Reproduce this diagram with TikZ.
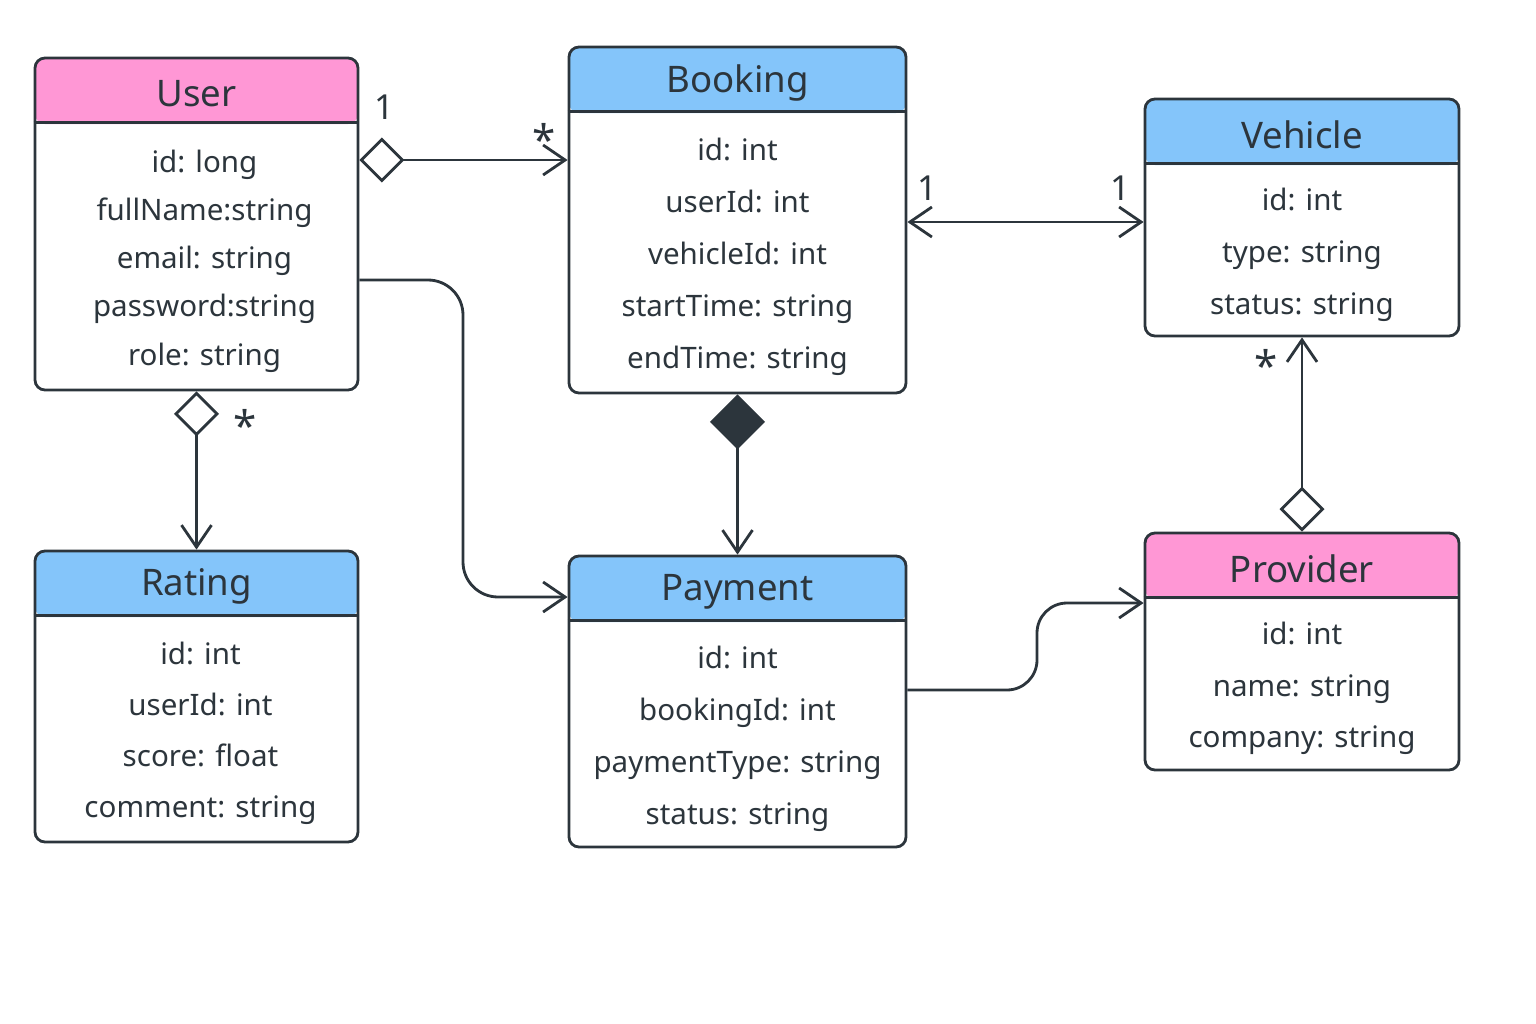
\documentclass[tikz,border=0pt]{standalone}
\usepackage{fontspec}
\setmainfont{Noto Sans}
\usetikzlibrary{arrows.meta,fit,calc}
\definecolor{ink}{HTML}{2C353C}
\definecolor{headpink}{HTML}{FF97D5}
\definecolor{headblue}{HTML}{84C5FA}
\tikzset{
  classbox/.style={draw=ink, line width=0.8pt, rounded corners=0.1cm, inner sep=0pt,
    path picture={\fill[#1] (path picture bounding box.north west) rectangle ([yshift=-0.66cm]path picture bounding box.north east);}},
  headline/.style={draw=ink, line width=0.8pt},
  classname/.style={text=ink, yshift=-0.04cm, font=\fontsize{10.4}{12}\selectfont},
  attrs/.style={text=ink, align=center, yshift=-0.04cm, font=\fontsize{8.4}{#1}\selectfont},
  attrs/.default=14.8pt,
  assoc/.style={draw=ink, line width=0.8pt},
  mult/.style={text=ink, font=\fontsize{9.8}{10}\selectfont},
  star/.style={text=ink, font=\fontsize{12}{12}\selectfont},
  navi/.tip={Straight Barb[length=0.22cm,width=0.3cm]},
  aggr/.tip={Diamond[open,length=0.45cm,width=0.45cm]},
  comp/.tip={Diamond[length=0.55cm,width=0.55cm]},
}
\begin{document}
\begin{tikzpicture}[x=0.01cm,y=-0.01cm]
\useasboundingbox (0,0) rectangle (1536,1024);
% classes
\node[classbox=headpink, fit={(35,58) (358,390)}] (user) {};
\draw[headline] ([yshift=-0.66cm]user.north west) -- ([yshift=-0.66cm]user.north east);
\node[classname] (user-name) at ([yshift=-0.33cm]user.north) {User};
\node[attrs=13.7pt, xshift=0.08cm] (user-attrs) at ($(user.south)!0.5!([yshift=-0.66cm]user.north)$) {id: long\\fullName:string\\email: string\\password:string\\role: string};

\node[classbox=headblue, fit={(569,47) (906,393)}] (booking) {};
\draw[headline] ([yshift=-0.66cm]booking.north west) -- ([yshift=-0.66cm]booking.north east);
\node[classname] (booking-name) at ([yshift=-0.33cm]booking.north) {Booking};
\node[attrs] (booking-attrs) at ($(booking.south)!0.5!([yshift=-0.66cm]booking.north)$) {id: int\\userId: int\\vehicleId: int\\startTime: string\\endTime: string};

\node[classbox=headblue, fit={(1145,99) (1459,336)}] (vehicle) {};
\draw[headline] ([yshift=-0.66cm]vehicle.north west) -- ([yshift=-0.66cm]vehicle.north east);
\node[classname] (vehicle-name) at ([yshift=-0.33cm]vehicle.north) {Vehicle};
\node[attrs] (vehicle-attrs) at ($(vehicle.south)!0.5!([yshift=-0.66cm]vehicle.north)$) {id: int\\type: string\\status: string};

\node[classbox=headblue, fit={(35,551) (358,842)}] (rating) {};
\draw[headline] ([yshift=-0.66cm]rating.north west) -- ([yshift=-0.66cm]rating.north east);
\node[classname] (rating-name) at ([yshift=-0.33cm]rating.north) {Rating};
\node[attrs=14.5pt, xshift=0.04cm] (rating-attrs) at ($(rating.south)!0.5!([yshift=-0.66cm]rating.north)$) {id: int\\userId: int\\score: float\\comment: string};

\node[classbox=headblue, fit={(569,556) (906,847)}] (payment) {};
\draw[headline] ([yshift=-0.66cm]payment.north west) -- ([yshift=-0.66cm]payment.north east);
\node[classname] (payment-name) at ([yshift=-0.33cm]payment.north) {Payment};
\node[attrs] (payment-attrs) at ($(payment.south)!0.5!([yshift=-0.66cm]payment.north)$) {id: int\\bookingId: int\\paymentType: string\\status: string};

\node[classbox=headpink, fit={(1145,533) (1459,770)}] (provider) {};
\draw[headline] ([yshift=-0.66cm]provider.north west) -- ([yshift=-0.66cm]provider.north east);
\node[classname] (provider-name) at ([yshift=-0.33cm]provider.north) {Provider};
\node[attrs=14.6pt] (provider-attrs) at ($(provider.south)!0.5!([yshift=-0.66cm]provider.north)$) {id: int\\name: string\\company: string};

% relations
\draw[assoc, {aggr}-{navi}] (user.east |- 0,160) -- (booking.west |- 0,160);
\draw[assoc, {aggr}-{navi}] (user.south) -- (rating.north);
\draw[assoc, -{navi}, rounded corners=0.35cm] (user.east |- 0,280) -| (463,597) -- (payment.west |- 0,597);
\draw[assoc, {navi}-{navi}] (booking.east |- 0,222) -- (vehicle.west |- 0,222);
\draw[assoc, {comp}-{navi}] (booking.south) -- (payment.north);
\draw[assoc, -{navi}, rounded corners=0.3cm] (payment.east |- 0,690) -| (1037,603) -- (provider.west |- 0,603);
\draw[assoc, {aggr}-{navi}] (provider.north) -- (vehicle.south);

% multiplicities
\node[mult] (m-user-booking) at (384,107) {1};
\node[star] (m-booking-user) at (544,139) {*};
\node[star] (m-rating-user) at (245,425) {*};
\node[mult] (m-booking-vehicle) at (927,188) {1};
\node[mult] (m-vehicle-booking) at (1120,188) {1};
\node[star] (m-vehicle-provider) at (1266,365) {*};
\end{tikzpicture}
\end{document}
